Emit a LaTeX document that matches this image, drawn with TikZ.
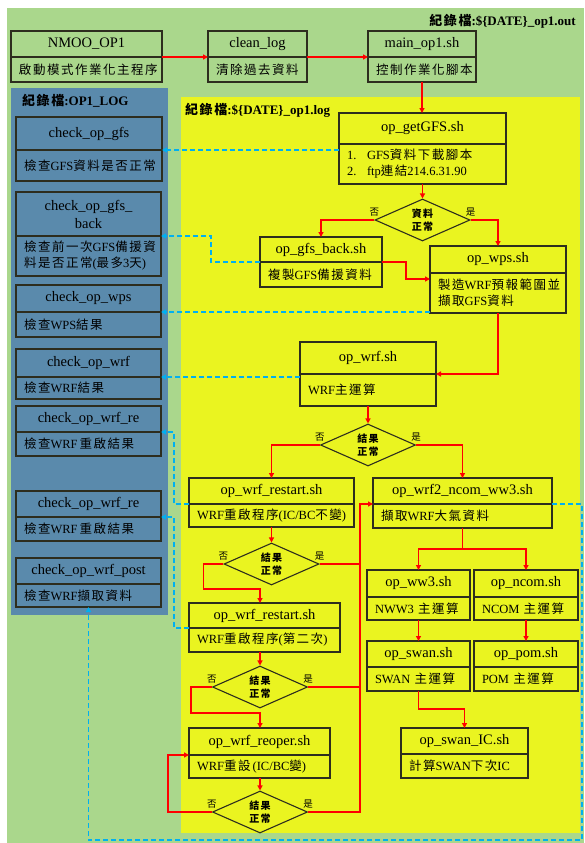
\documentclass[tikz,border=0pt]{standalone}
\usepackage{fontspec}
\setmainfont{Liberation Serif}
\newfontfamily\zh[LetterSpace=12]{Noto Sans CJK TC}
\usetikzlibrary{shapes.geometric,arrows.meta,calc}
\definecolor{bggreen}{RGB}{170,215,140}
\definecolor{bgblue}{RGB}{90,138,172}
\definecolor{bgyellow}{RGB}{234,244,32}
\definecolor{boxc}{RGB}{45,45,30}
\definecolor{cyanc}{RGB}{0,176,240}
\newcommand{\cj}[1]{{\zh #1}}
\newcommand{\twobox}[8]{%
  \pgfmathsetmacro{\tbw}{#4-16}%
  \node[boxtop, minimum width=#4pt, text width=\tbw pt, minimum height=#5pt, anchor=north west] (#1) at (#2,#3) {#7};
  \node[boxbot, minimum width=#4pt, text width=\tbw pt, minimum height=#6pt, anchor=north west] (#1-b) at (#1.south west) {#8};
}
\tikzset{
  box/.style={draw=boxc, line width=1.1pt, outer sep=0pt, inner xsep=8pt, inner ysep=1pt},
  boxtop/.style={box, align=center, font=\fontsize{14.5}{18}\selectfont},
  boxbot/.style={box, align=left, font=\fontsize{12.5}{16}\selectfont},
  dec/.style={diamond, draw=boxc, line width=1.1pt, inner sep=0pt, shape aspect=2.2, minimum width=95pt, minimum height=42pt, align=center, font=\fontsize{10}{13}\selectfont\bfseries},
  yn/.style={font=\fontsize{9.5}{10}\selectfont, inner sep=0.5pt, anchor=south},
  rarr/.style={draw=red, line width=1.4pt, -{Triangle[length=5pt,width=5pt]}},
  rline/.style={draw=red, line width=1.4pt},
  carr/.style={draw=cyanc, line width=1.4pt, dash pattern=on 5pt off 3pt, -{Triangle[length=5pt,width=5pt]}},
  ttl/.style={font=\fontsize{13}{13}\selectfont\bfseries, inner sep=0pt}
}
\begin{document}
\begin{tikzpicture}[x=1pt,y=-1pt]
\useasboundingbox (0,0) rectangle (584,843);
% backgrounds
\fill[bggreen] (7,8) rectangle (584,843);
\fill[bgblue] (11,88) rectangle (168,615);
\fill[bgyellow] (181,97) rectangle (580,833);
% titles
\node[ttl, anchor=east] (tout) at (576,21) {\cj{紀錄檔}:\$\{DATE\}\_op1.out};
\node[ttl, anchor=west] (tlogb) at (22,101) {\cj{紀錄檔}:OP1\_LOG};
\node[ttl, anchor=west] (tlog) at (185,110) {\cj{紀錄檔}:\$\{DATE\}\_op1.log};
% top boxes
\twobox{nmoo}{11}{31}{151}{26}{25}{NMOO\_OP1}{\cj{啟動模式作業化主程序}}
\twobox{clean}{208}{31}{99}{26}{25}{clean\_log}{\cj{清除過去資料}}
\twobox{main}{368}{31}{108}{26}{25}{main\_op1.sh}{\cj{控制作業化腳本}}
% left check boxes
\twobox{cgfs}{16}{117}{146}{33}{31}{check\_op\_gfs}{\cj{檢查}GFS\cj{資料是否正常}}
\twobox{cgfsb}{16}{192}{145}{44}{40}{check\_op\_gfs\_\\back}{\cj{檢查前一次}GFS\cj{備援資}\\\cj{料是否正常}(\cj{最多}3\cj{天})}
\twobox{cwps}{16}{285}{145}{27}{25}{check\_op\_wps}{\cj{檢查}WPS\cj{結果}}
\twobox{cwrf}{16}{349}{145}{28}{22}{check\_op\_wrf}{\cj{檢查}WRF\cj{結果}}
\twobox{cwre1}{16}{406}{145}{26}{24}{check\_op\_wrf\_re}{\cj{檢查}WRF\,\cj{重啟結果}}
\twobox{cwre2}{16}{491}{145}{26}{24}{check\_op\_wrf\_re}{\cj{檢查}WRF\,\cj{重啟結果}}
\twobox{cpost}{16}{558}{145}{26}{23}{check\_op\_wrf\_post}{\cj{檢查}WRF\cj{擷取資料}}
% flow boxes
\twobox{gfs}{339}{113}{167}{31}{40}{op\_getGFS.sh}{\makebox[20pt][l]{1.}GFS\cj{資料下載腳本}\\\makebox[20pt][l]{2.}ftp\cj{連結}214.6.31.90}
\node[dec] (d1) at (422.5,220) {\cj{資料}\\\cj{正常}};
\twobox{gfsb}{260}{237}{122}{25}{25}{op\_gfs\_back.sh}{\cj{複製}GFS\cj{備援資料}}
\twobox{wps}{430}{246}{136}{27}{40}{op\_wps.sh}{\cj{製造}WRF\cj{預報範圍並}\\\cj{擷取}GFS\cj{資料}}
\twobox{wrf}{300}{342}{136}{32}{32}{op\_wrf.sh}{WRF\cj{主運算}}
\node[dec] (d2) at (368,445) {\cj{結果}\\\cj{正常}};
\twobox{wre1}{189}{478}{165}{26}{23}{op\_wrf\_restart.sh}{WRF\cj{重啟程序}(IC/BC\cj{不變})}
\node[dec] (d3) at (271.5,564) {\cj{結果}\\\cj{正常}};
\twobox{wre2}{189}{603}{151}{25}{24}{op\_wrf\_restart.sh}{WRF\cj{重啟程序}(\cj{第二次})}
\node[dec] (d4) at (260,687) {\cj{結果}\\\cj{正常}};
\twobox{reoper}{189}{728}{141}{27}{23}{op\_wrf\_reoper.sh}{WRF\cj{重設}\,(IC/BC\cj{變})}
\node[dec] (d5) at (260,812) {\cj{結果}\\\cj{正常}};
\twobox{w2n}{373}{478}{179}{26}{24}{op\_wrf2\_ncom\_ww3.sh}{\cj{擷取}WRF\cj{大氣資料}}
\twobox{ww3}{367}{570}{103}{27}{23}{op\_ww3.sh}{NWW3 \cj{主運算}}
\twobox{ncom}{474}{570}{104}{27}{23}{op\_ncom.sh}{NCOM \cj{主運算}}
\twobox{swan}{367}{641}{103}{26}{24}{op\_swan.sh}{SWAN \cj{主運算}}
\twobox{pom}{474}{641}{104}{26}{24}{op\_pom.sh}{POM \cj{主運算}}
\twobox{swanic}{401}{728}{127}{26}{24}{op\_swan\_IC.sh}{\cj{計算}SWAN\cj{下次}IC}
% yes/no labels
\foreach \d in {d1,d2,d3,d4,d5}{
  \node[yn] (\d n) at ([yshift=3pt]\d.west) {\cj{否}};
  \node[yn] (\d y) at ([yshift=3pt]\d.east) {\cj{是}};
}
% red connectors
\draw[rarr] (nmoo.south east) -- (clean.south west);
\draw[rarr] (clean.south east) -- (main.south west);
\draw[rarr] (main-b.south) -- (main-b.south |- gfs.north);
\draw[rarr] (gfs-b.south) -- (d1.north);
\draw[rarr] (d1.west) -| (gfsb.north);
\draw[rarr] (d1.east) -| (wps.north);
\draw[rarr] (gfsb.south east) -- ++(24,0) |- ([yshift=-6pt]wps-b.north west);
\draw[rarr] (wps-b.south) |- (wrf.south east);
\draw[rarr] (wrf-b.south) -- (d2.north);
\draw[rarr] (d2.west) -| (wre1.north);
\draw[rarr] (d2.east) -| (w2n.north);
\draw[rarr] (wre1-b.south) -- (d3.north);
\draw[rarr] (d3.west) -- ++(-20,0) -- ++(0,25) -| (d4.north |- wre2.north);
\draw[rarr] (d4.north |- wre2-b.south) -- (d4.north);
\draw[rarr] (d4.west) -- ++(-21,0) -- ++(0,26) -| (d5.north |- reoper.north);
\draw[rarr] (d5.north |- reoper-b.south) -- (d5.north);
\draw[rarr] (d5.west) -- ++(-44,0) |- (reoper.south west);
\coordinate (bus) at (360,504);
\draw[rarr] (d5.east) -| (bus) -- (w2n.south west);
\draw[rline] (d3.east) -- (d3.east -| bus);
\draw[rline] (d4.east) -- (d4.east -| bus);
\draw[rline] (w2n-b.south) -- ++(0,21) coordinate (split);
\draw[rarr] (split) -| (ww3.north);
\draw[rarr] (split) -| (ncom.north);
\draw[rarr] (ww3-b.south) -- (swan.north);
\draw[rarr] (ncom-b.south) -- (pom.north);
\draw[rarr] (swan-b.south) -- ++(0,18) -| (swanic.north);
% cyan dashed log connectors
\draw[carr] (cgfs-b.north east -| gfs.west) -- (cgfs-b.north east);
\draw[carr] (gfsb.south west) -- ++(-49,0) |- (cgfsb-b.north east);
\draw[carr] (cwps-b.north east -| wps.west) -- (cwps-b.north east);
\draw[carr] (cwrf-b.north east -| wrf.west) -- (cwrf-b.north east);
\draw[carr] (wre1.south west) -- ++(-15,0) |- (cwre1-b.north east);
\draw[carr] (wre2.south west) -- ++(-15,0) |- (cwre2-b.north east);
\coordinate (dc) at (582,840);
\draw[carr] (w2n.south east) -| (dc) -| (cpost-b.south);
\end{tikzpicture}
\end{document}
